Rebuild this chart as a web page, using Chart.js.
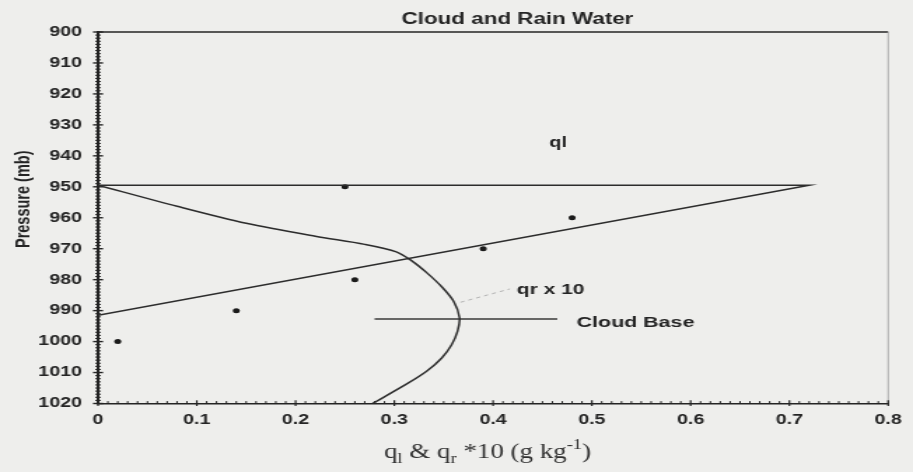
<!DOCTYPE html>
<html>
<head>
<meta charset="utf-8">
<script src="https://cdn.jsdelivr.net/npm/chart.js@4/dist/chart.umd.min.js"></script>
<style>
  html, body { margin: 0; padding: 0; background: #eeeeec; overflow: hidden; }
  /* the figure is drawn narrow and widened horizontally */
  #wrap { position: absolute; left: 0; top: 0; width: 652px; height: 472px;
          transform: scaleX(1.40031); transform-origin: 0 0; }
</style>
</head>
<body>
<div id="wrap"><canvas id="c"></canvas></div>
<script>
const STRETCH = 913 / 652;

// Cloud liquid water ql (g/kg) against pressure (mb)
const qlValues   = [0, 0.72, 0];
const qlPressure = [991.5, 949.5, 949.5];

// Rain water qr x 10 (g/kg) against pressure (mb)
const qrValues   = [0, 0.08, 0.15, 0.22, 0.27, 0.302, 0.318, 0.333, 0.348, 0.360, 0.366, 0.364, 0.358, 0.348, 0.333, 0.313, 0.278];
const qrPressure = [949.5, 956.3, 961.8, 966.0, 968.6, 971.0, 974.0, 977.8, 982.3, 987.0, 992.3, 996.6, 1001.0, 1005.3, 1009.5, 1013.6, 1020];

// Observed liquid water
const obsValues   = [0.02, 0.14, 0.26, 0.39, 0.48, 0.25];
const obsPressure = [1000, 990, 980, 970, 960, 950];

// Cloud base marker and the pointer to the qr curve
const cloudBaseValues   = [0.28, 0.465];
const cloudBasePressure = [992.7, 992.7];
const pointerValues   = [0.367, 0.417];
const pointerPressure = [987.3, 983.0];

// Axis ticks
const pressureTicks = [900, 910, 920, 930, 940, 950, 960, 970, 980, 990, 1000, 1010, 1020];
const xTicks = [0, 0.1, 0.2, 0.3, 0.4, 0.5, 0.6, 0.7, 0.8];
const xTickLabels = ['0', '0.1', '0.2', '0.3', '0.4', '0.5', '0.6', '0.7', '0.8'];

const INK = '#242424';
const SANS = "'Liberation Sans', Arial, sans-serif";

const pts = (xs, ys) => xs.map((v, i) => ({ x: v, y: ys[i] }));

const decorations = {
  id: 'decorations',
  beforeDatasetsDraw(chart) {
    const { ctx, chartArea: a, scales: { x, y } } = chart;
    ctx.save();
    // frame: top line and faint right edge
    ctx.strokeStyle = INK; ctx.lineWidth = 1.4;
    ctx.beginPath(); ctx.moveTo(a.left, a.top); ctx.lineTo(a.right, a.top); ctx.stroke();
    ctx.strokeStyle = '#9a9a9a'; ctx.lineWidth = 0.8;
    ctx.beginPath(); ctx.moveTo(a.right, a.top); ctx.lineTo(a.right, a.bottom); ctx.stroke();

    // y axis ticks: every 1 mb minor, every 10 mb crossing
    ctx.strokeStyle = INK;
    for (let p = 900; p <= 1020; p++) {
      const py = y.getPixelForValue(p);
      const major = p % 10 === 0;
      const h = major ? 3.6 : 2.0;
      ctx.lineWidth = major ? 1.4 : 1.0;
      ctx.beginPath(); ctx.moveTo(a.left - h, py); ctx.lineTo(a.left + h, py); ctx.stroke();
    }
    // x axis ticks: every 0.01 minor, every 0.1 crossing
    for (let i = 0; i <= 80; i++) {
      const px = x.getPixelForValue(i / 100);
      const major = i % 10 === 0;
      ctx.lineWidth = major ? 1.2 : 1.0;
      ctx.beginPath();
      ctx.moveTo(px, a.bottom - (major ? 3.2 : 2.4));
      ctx.lineTo(px, a.bottom + (major ? 2.5 : 0));
      ctx.stroke();
    }
    ctx.restore();
  },
  afterDraw(chart) {
    const { ctx, chartArea: a, scales: { x, y } } = chart;
    ctx.save();
    ctx.fillStyle = INK;

    // title
    ctx.font = `bold 16px ${SANS}`;
    ctx.textAlign = 'center'; ctx.textBaseline = 'alphabetic';
    ctx.fillText('Cloud and Rain Water', (a.left + a.right) / 2 + 17.4, 23.5);

    // curve labels
    ctx.textAlign = 'left'; ctx.textBaseline = 'middle';
    ctx.font = `bold 14px ${SANS}`;
    ctx.fillText('ql', x.getPixelForValue(0.457), y.getPixelForValue(936));
    ctx.font = `bold 15px ${SANS}`;
    ctx.fillText('qr x 10', x.getPixelForValue(0.424), y.getPixelForValue(983.3));
    ctx.font = `bold 15.3px ${SANS}`;
    ctx.fillText('Cloud Base', x.getPixelForValue(0.4845), y.getPixelForValue(994));

    // vertical axis title
    ctx.save();
    ctx.translate(17, (a.top + a.bottom) / 2 - 18.5);
    ctx.rotate(-Math.PI / 2);
    ctx.textAlign = 'center'; ctx.textBaseline = 'middle';
    ctx.font = `bold 14.5px ${SANS}`;
    ctx.fillText('Pressure (mb)', 0, 0);
    ctx.restore();

    // horizontal axis title, set in serif with sub/superscripts (undo the widening)
    ctx.save();
    ctx.scale(1 / STRETCH, 1);
    ctx.fillStyle = '#2f2f2f';
    ctx.textAlign = 'left'; ctx.textBaseline = 'alphabetic';
    const big = "22px 'Liberation Serif', 'Times New Roman', serif";
    const small = "15px 'Liberation Serif', 'Times New Roman', serif";
    const parts = [
      ['q', big, 0], ['l', small, 5], [' & q', big, 0], ['r', small, 5],
      [' *10 (g kg', big, 0], ['-1', small, -9], [')', big, 0]
    ];
    let w = 0;
    parts.forEach(([t, f]) => { ctx.font = f; w += ctx.measureText(t).width; });
    const fit = 207 / w;
    const cx = ((a.left + a.right) / 2 - 4) * STRETCH;
    ctx.translate(cx - 207 / 2, 458);
    ctx.scale(fit, 1);
    let xx = 0;
    parts.forEach(([t, f, dy]) => {
      ctx.font = f; ctx.fillText(t, xx, dy); xx += ctx.measureText(t).width;
    });
    ctx.restore();
    ctx.restore();
  }
};

new Chart(document.getElementById('c'), {
  type: 'scatter',
  data: {
    datasets: [
      { label: 'ql', data: pts(qlValues, qlPressure), showLine: true,
        borderColor: '#2c2c2c', borderWidth: 1.5, pointRadius: 0, fill: false },
      { label: 'qr x 10', data: pts(qrValues, qrPressure), showLine: true, tension: 0.3,
        borderColor: '#2c2c2c', borderWidth: 1.5, pointRadius: 0, fill: false },
      { label: 'observed', data: pts(obsValues, obsPressure), showLine: false,
        pointRadius: 2.5, pointBackgroundColor: '#1a1a1a', pointBorderWidth: 0 },
      { label: 'Cloud Base', data: pts(cloudBaseValues, cloudBasePressure), showLine: true,
        borderColor: '#3a3a3a', borderWidth: 1.3, pointRadius: 0, fill: false },
      { label: 'pointer', data: pts(pointerValues, pointerPressure), showLine: true,
        borderColor: '#ababab', borderWidth: 0.9, borderDash: [3, 3], pointRadius: 0, fill: false }
    ]
  },
  options: {
    responsive: true,
    maintainAspectRatio: false,
    animation: false,
    devicePixelRatio: 1,
    layout: { padding: { top: 32, right: 11.4, left: 0, bottom: 0 } },
    plugins: { legend: { display: false }, tooltip: { enabled: false }, title: { display: false } },
    scales: {
      x: {
        type: 'linear', min: 0, max: 0.8,
        afterBuildTicks: s => { s.ticks = xTicks.map(v => ({ value: v })); },
        afterFit: s => { s.height = 68.5; },
        grid: { display: false, drawTicks: false },
        border: { display: true, color: INK, width: 1.6 },
        ticks: {
          padding: 8, autoSkip: false, maxRotation: 0, color: INK,
          font: { family: SANS, size: 14, weight: 'bold' },
          callback: (v) => xTickLabels[xTicks.findIndex(t => Math.abs(t - v) < 1e-6)]
        }
      },
      y: {
        type: 'linear', reverse: true, min: 900, max: 1020,
        afterBuildTicks: s => { s.ticks = pressureTicks.map(v => ({ value: v })); },
        afterFit: s => { s.width = 70; },
        grid: { display: false, drawTicks: false },
        border: { display: true, color: INK, width: 2 },
        ticks: {
          padding: 11.5, autoSkip: false, color: INK,
          font: { family: SANS, size: 14, weight: 'bold' },
          callback: v => String(v)
        }
      }
    }
  },
  plugins: [decorations]
});
</script>
</body>
</html>
